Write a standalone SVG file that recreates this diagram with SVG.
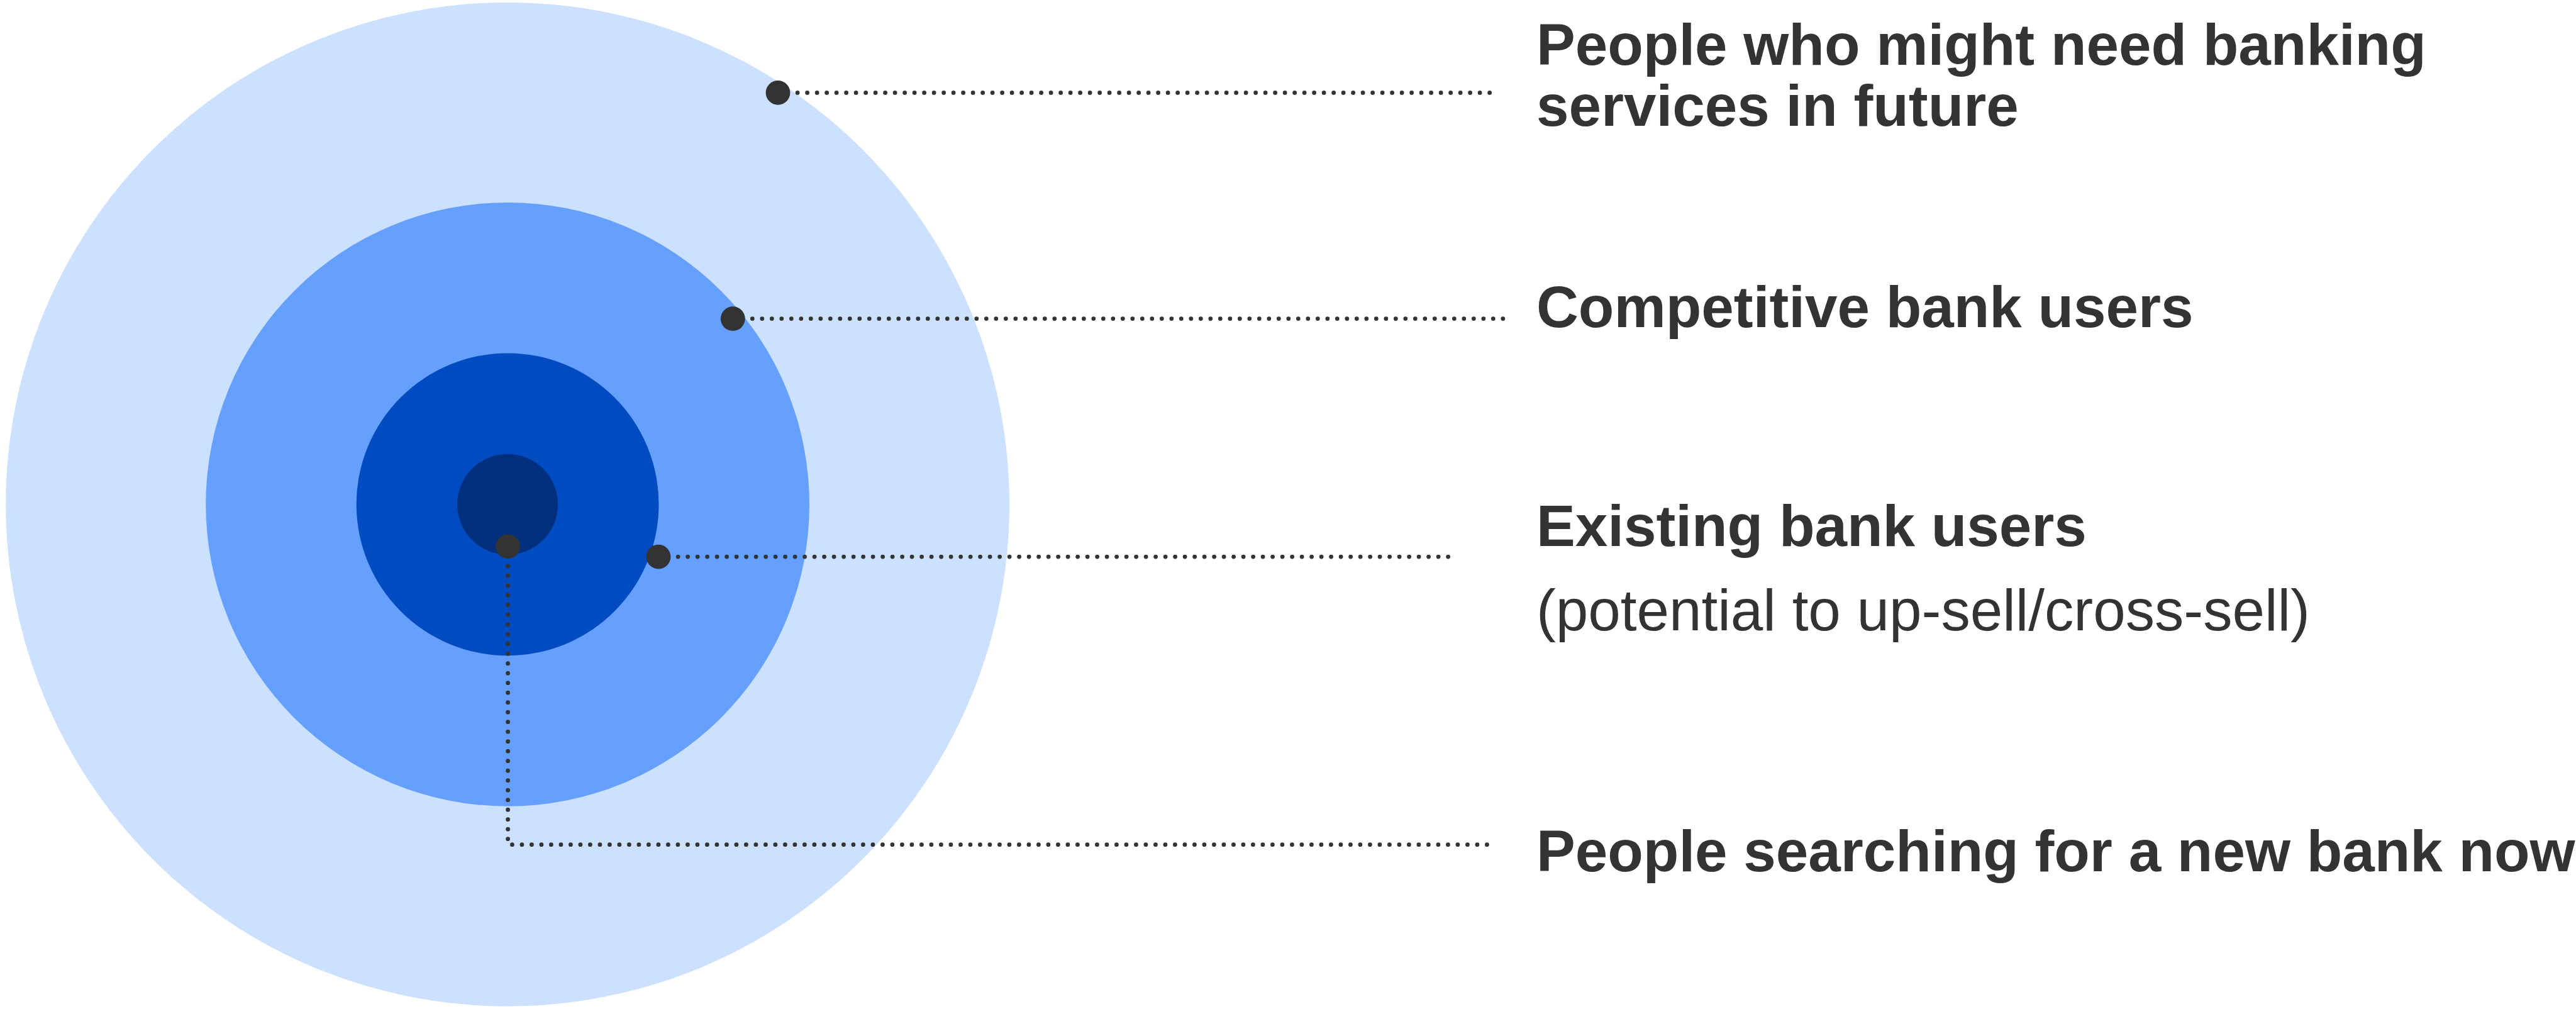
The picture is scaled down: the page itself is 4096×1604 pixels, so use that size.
<svg xmlns="http://www.w3.org/2000/svg" width="4096" height="1604" viewBox="0 0 4096 1604">
  <style>
    .label { font-family: "Liberation Sans", Arial, sans-serif; font-size: 92.6px; fill: #333333; }
    .bold { font-weight: bold; }
    .leader { fill: none; stroke: #333333; stroke-width: 6.8; stroke-linecap: round; stroke-dasharray: 0 15.5; }
    .pin { fill: #333333; }
  </style>
  <rect width="4096" height="1604" fill="#ffffff"/>

  <!-- concentric market rings -->
  <g id="ring-future">
    <circle cx="807.1" cy="801.8" r="797.9" fill="#CCE0FF"/>
  </g>
  <g id="ring-competitive">
    <circle cx="807.1" cy="801.8" r="479.9" fill="#66A0FF"/>
  </g>
  <g id="ring-existing">
    <circle cx="807.1" cy="801.8" r="240.4" fill="#004BBF"/>
  </g>
  <g id="ring-searching">
    <circle cx="807.1" cy="801.8" r="80" fill="#00307D"/>
  </g>

  <!-- dotted leader lines -->
  <g id="connectors">
    <path class="leader" d="M1268.1 147.4 H2371.3"/>
    <path class="leader" d="M1196.3 506.7 H2391.7"/>
    <path class="leader" d="M1078.1 885.1 H2304.4"/>
    <path class="leader" d="M807.6 899.7 V1342.7"/>
    <path class="leader" d="M814.4 1342.7 H2367.5"/>
  </g>

  <!-- anchor pins on the rings -->
  <g id="pins">
    <circle class="pin" cx="1237.0" cy="147.4" r="19.4"/>
    <circle class="pin" cx="1165.3" cy="506.7" r="19.4"/>
    <circle class="pin" cx="1047.0" cy="885.1" r="19.4"/>
    <circle class="pin" cx="807.6" cy="868.6" r="19.4"/>
  </g>

  <!-- labels -->
  <g id="label-future">
    <text class="label bold" x="2443" y="103">People who might need banking</text>
    <text class="label bold" x="2443" y="200">services in future</text>
  </g>
  <g id="label-competitive">
    <text class="label bold" x="2443" y="520">Competitive bank users</text>
  </g>
  <g id="label-existing">
    <text class="label bold" x="2443" y="868">Existing bank users</text>
    <text class="label" x="2443" y="1002">(potential to up-sell/cross-sell)</text>
  </g>
  <g id="label-searching">
    <text class="label bold" x="2443" y="1385">People searching for a new bank now</text>
  </g>
</svg>
